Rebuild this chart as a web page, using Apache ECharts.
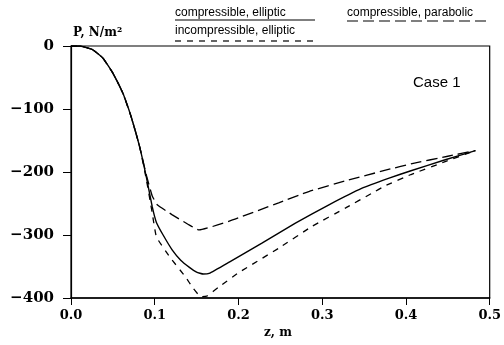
<!DOCTYPE html>
<html><head><meta charset="utf-8">
<script src="https://cdn.jsdelivr.net/npm/echarts@6/dist/echarts.min.js"></script>
<style>html,body{margin:0;padding:0;background:#fff}#c{width:504px;height:345px}</style>
</head><body><div id="c"></div>
<script>
// compressible, elliptic (solid)
const zCompEll = [0, 0.011, 0.026, 0.038, 0.05, 0.062, 0.072, 0.082, 0.09, 0.097, 0.102, 0.11, 0.121, 0.131, 0.141, 0.15, 0.158, 0.165, 0.189, 0.228, 0.268, 0.308, 0.347, 0.379, 0.406, 0.446, 0.483];
const pCompEll = [0, 0, -6, -19, -43, -75, -113, -160, -208, -255, -280, -300, -324, -340, -351, -359, -362, -361, -343, -313, -281, -252, -226, -210, -198, -181, -166];
// incompressible, elliptic (short dash)
const zIncEll = [0, 0.011, 0.026, 0.038, 0.05, 0.062, 0.072, 0.082, 0.09, 0.097, 0.102, 0.118, 0.137, 0.145, 0.155, 0.162, 0.177, 0.2, 0.248, 0.287, 0.328, 0.359, 0.375, 0.406, 0.446, 0.483];
const pIncEll = [0, 0, -6, -19, -43, -75, -113, -160, -212, -265, -303, -335, -367, -383, -398, -397, -382, -360, -321, -287, -257, -234, -222, -204, -184, -166];
// compressible, parabolic (long dash)
const zCompPar = [0, 0.011, 0.026, 0.038, 0.05, 0.062, 0.072, 0.082, 0.09, 0.097, 0.103, 0.121, 0.141, 0.153, 0.189, 0.248, 0.284, 0.328, 0.379, 0.406, 0.45, 0.483];
const pCompPar = [0, 0, -6, -19, -43, -75, -113, -160, -205, -238, -252, -268, -284, -292, -278, -249, -231, -214, -196, -187, -175, -166];

const xTicks = [0, 0.1, 0.2, 0.3, 0.4, 0.5];
const yTicks = [-400, -300, -200, -100, 0];

const pair = (xs, ys) => xs.map((x, i) => [x, ys[i]]);
const chart = echarts.init(document.getElementById('c'), null, {renderer: 'canvas'});
const serif = 'DejaVu Serif';
const lineBase = {type: 'line', showSymbol: false, symbol: 'none', smooth: 0.12, animation: false};
chart.setOption({
  backgroundColor: '#fff',
  animation: false,
  grid: {left: 71, right: 11, top: 46, bottom: 47, show: true, borderColor: '#000', borderWidth: 1.2, backgroundColor: 'transparent'},
  xAxis: {
    type: 'value', min: xTicks[0], max: xTicks[xTicks.length - 1], interval: 0.1,
    axisLine: {show: true, onZero: false, lineStyle: {color: '#000', width: 1.5}},
    axisTick: {show: true, inside: false, length: 7, lineStyle: {color: '#000', width: 1}},
    splitLine: {show: false},
    axisLabel: {color: '#000', fontFamily: serif, fontWeight: 'bold', fontSize: 13, margin: 11,
      formatter: v => v.toFixed(1)}
  },
  yAxis: {
    type: 'value', min: yTicks[0], max: yTicks[yTicks.length - 1], interval: 100,
    axisLine: {show: true, onZero: false, lineStyle: {color: '#000', width: 1.2}},
    axisTick: {show: true, inside: false, length: 8, lineStyle: {color: '#000', width: 1}},
    splitLine: {show: false},
    axisLabel: {color: '#000', fontFamily: serif, fontWeight: 'bold', fontSize: 15, margin: 17,
      formatter: v => v < 0 ? '\u2212' + Math.abs(v) : String(v)}
  },
  series: [
    Object.assign({}, lineBase, {name: 'compressible, elliptic', data: pair(zCompEll, pCompEll),
      lineStyle: {color: '#000', width: 1.4, type: 'solid'}}),
    Object.assign({}, lineBase, {name: 'incompressible, elliptic', data: pair(zIncEll, pIncEll),
      lineStyle: {color: '#000', width: 1.3, type: [6, 6]}}),
    Object.assign({}, lineBase, {name: 'compressible, parabolic', data: pair(zCompPar, pCompPar),
      lineStyle: {color: '#000', width: 1.3, type: [11, 5]}})
  ],
  graphic: [
    {type: 'text', left: 73, top: 27, style: {text: 'P, N/m\u00B2', fill: '#000', font: 'bold 12px "DejaVu Serif"'}},
    {type: 'text', left: 264, top: 327, style: {text: 'z, m', fill: '#000', font: 'bold 12px "DejaVu Serif"'}},
    {type: 'text', left: 413, top: 75, style: {text: 'Case 1', fill: '#000', font: '15px "Liberation Sans"'}},
    {type: 'text', left: 175, top: 7, style: {text: 'compressible, elliptic', fill: '#000', font: '12px "Liberation Sans"'}},
    {type: 'line', shape: {x1: 175, y1: 20, x2: 315, y2: 20}, style: {stroke: '#000', lineWidth: 1.2}},
    {type: 'text', left: 175, top: 25, style: {text: 'incompressible, elliptic', fill: '#000', font: '12px "Liberation Sans"'}},
    {type: 'line', shape: {x1: 175, y1: 41, x2: 315, y2: 41}, style: {stroke: '#000', lineWidth: 1.2, lineDash: [6, 6]}},
    {type: 'text', left: 347, top: 7, style: {text: 'compressible, parabolic', fill: '#000', font: '12px "Liberation Sans"'}},
    {type: 'line', shape: {x1: 347, y1: 21, x2: 488, y2: 21}, style: {stroke: '#000', lineWidth: 1.2, lineDash: [11, 5]}}
  ]
});
</script></body></html>
